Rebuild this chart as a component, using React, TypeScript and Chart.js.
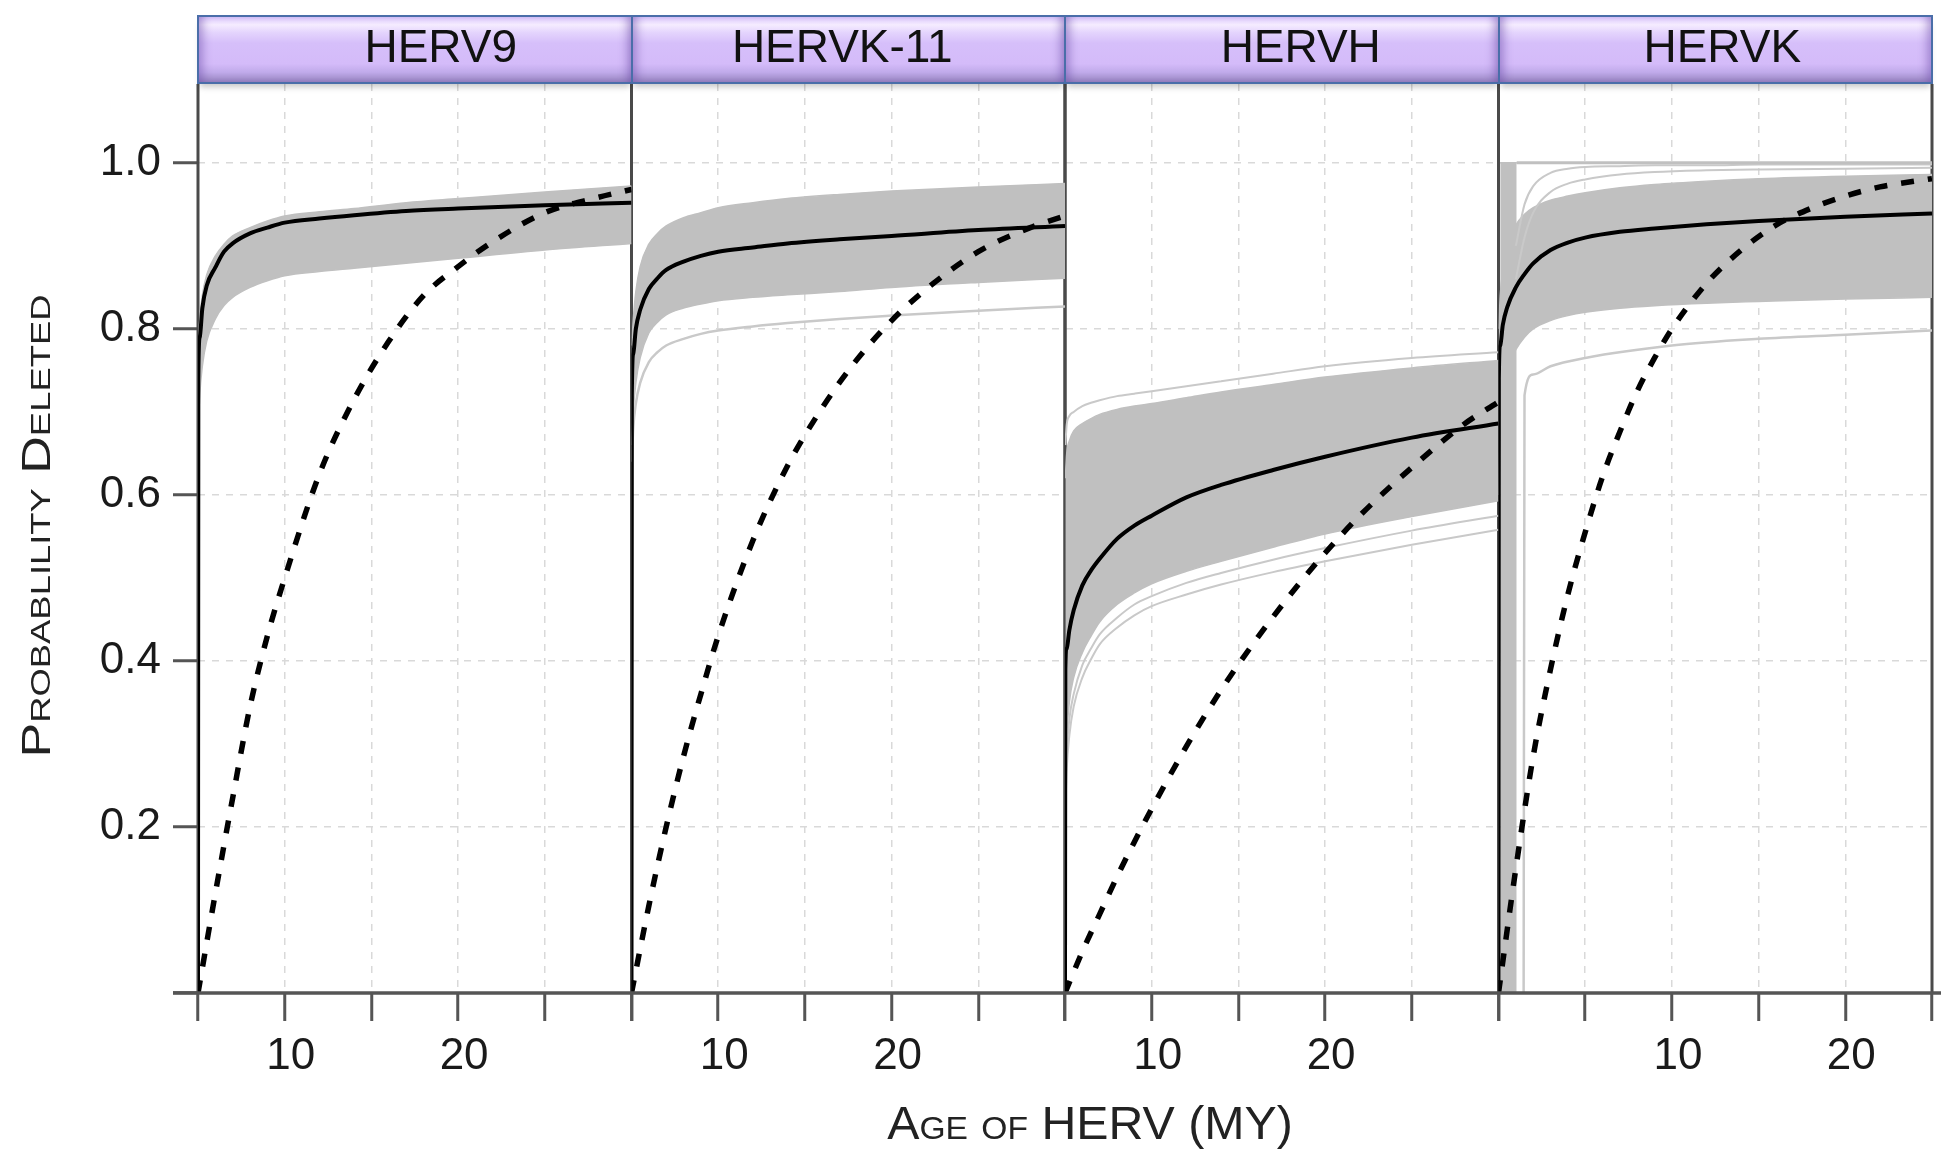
import React, { useEffect, useRef, useState } from 'react';
import { Chart, registerables } from 'chart.js';

Chart.register(...registerables);

const W = 1941;
const H = 1149;
const FONT = "'Liberation Sans', Arial, Helvetica, sans-serif";

// ---------- panels & axes ----------
const PANELS = ['HERV9', 'HERVK-11', 'HERVH', 'HERVK'];
const AGE_MIN = [5, 5, 5, 0];
const AGE_MAX = [30, 30, 30, 25];
const AGE_STEP = 5;
const AGE_LABELS = [10, 20];
const PROB_MAX = 1.095;
const PROB_STEP = 0.2;
const PROB_LABELS = [0.2, 0.4, 0.6, 0.8, 1.0];
const Y_TITLE = 'Probablility Deleted';
const X_TITLE = 'Age of HERV (MY)';

// ---------- age grids ----------
const AGES_5 = [5, 5.02, 5.1, 5.25, 5.5, 6, 6.5, 7, 8, 9, 10, 12, 14, 17, 20, 25, 30];
const AGES_0 = [0, 0.02, 0.1, 0.25, 0.5, 1, 1.5, 2, 3, 4, 5, 7, 9, 12, 15, 20, 25];
const EXP_AGES_5 = [5, 6, 7, 8, 9, 10, 12, 14, 16, 18, 20, 22, 25, 28, 30];
const EXP_AGES_0 = [0, 1, 2, 3, 4, 5, 6, 7, 8, 9, 10, 12, 14, 16, 18, 20, 22, 25];

// ---------- HERV9 ----------
const HERV9_FIT = [0, 0.74, 0.79, 0.825, 0.852, 0.874, 0.893, 0.903, 0.915, 0.922, 0.928, 0.933, 0.937, 0.942, 0.945, 0.949, 0.952];
const HERV9_HI = [null, 0.78, 0.81, 0.84, 0.865, 0.888, 0.902, 0.912, 0.922, 0.93, 0.936, 0.941, 0.945, 0.952, 0.957, 0.965, 0.972];
const HERV9_LO = [null, 0.68, 0.72, 0.755, 0.785, 0.812, 0.828, 0.838, 0.85, 0.858, 0.864, 0.869, 0.873, 0.879, 0.885, 0.895, 0.903];
const HERV9_EXP = [0, 0.12, 0.235, 0.345, 0.43, 0.5, 0.625, 0.715, 0.785, 0.84, 0.875, 0.905, 0.94, 0.958, 0.968];

// ---------- HERVK-11 ----------
const HERVK11_FIT = [0, 0.72, 0.77, 0.8, 0.823, 0.848, 0.861, 0.871, 0.881, 0.888, 0.893, 0.898, 0.903, 0.908, 0.912, 0.919, 0.924];
const HERVK11_HI = [null, 0.78, 0.81, 0.845, 0.875, 0.902, 0.915, 0.924, 0.934, 0.94, 0.946, 0.952, 0.957, 0.962, 0.966, 0.971, 0.975];
const HERVK11_LO = [null, 0.66, 0.7, 0.735, 0.765, 0.795, 0.808, 0.817, 0.825, 0.83, 0.834, 0.838, 0.841, 0.845, 0.85, 0.856, 0.861];
const HERVK11_OUT = [null, 0.64, 0.68, 0.71, 0.735, 0.76, 0.772, 0.78, 0.788, 0.794, 0.798, 0.803, 0.807, 0.812, 0.816, 0.822, 0.827];
const HERVK11_EXP = [0, 0.105, 0.2, 0.285, 0.36, 0.43, 0.545, 0.635, 0.705, 0.763, 0.81, 0.848, 0.893, 0.922, 0.936];

// ---------- HERVH ----------
const HERVH_FIT = [0, 0.39, 0.415, 0.437, 0.461, 0.491, 0.509, 0.523, 0.547, 0.563, 0.575, 0.597, 0.612, 0.63, 0.646, 0.669, 0.686];
const HERVH_HI = [null, 0.62, 0.65, 0.665, 0.677, 0.686, 0.692, 0.697, 0.703, 0.707, 0.71, 0.717, 0.724, 0.733, 0.742, 0.753, 0.762];
const HERVH_LO = [null, 0.26, 0.31, 0.35, 0.38, 0.41, 0.43, 0.447, 0.468, 0.482, 0.493, 0.508, 0.52, 0.537, 0.553, 0.574, 0.593];
const HERVH_TOP = [null, 0.66, 0.685, 0.695, 0.7, 0.707, 0.711, 0.714, 0.719, 0.722, 0.725, 0.731, 0.737, 0.746, 0.755, 0.765, 0.772];
const HERVH_LOW1 = [null, 0.22, 0.27, 0.31, 0.345, 0.38, 0.402, 0.42, 0.44, 0.455, 0.466, 0.48, 0.492, 0.507, 0.52, 0.54, 0.558];
const HERVH_LOW2 = [null, 0.24, 0.29, 0.33, 0.36, 0.395, 0.415, 0.432, 0.452, 0.468, 0.478, 0.494, 0.506, 0.522, 0.536, 0.557, 0.575];
const HERVH_EXP = [0, 0.05, 0.095, 0.14, 0.182, 0.222, 0.297, 0.365, 0.425, 0.48, 0.53, 0.575, 0.633, 0.685, 0.712];

// ---------- HERVK ----------
const HERVK_FIT = [0, 0.74, 0.78, 0.805, 0.826, 0.85, 0.866, 0.879, 0.895, 0.904, 0.91, 0.917, 0.921, 0.926, 0.93, 0.935, 0.939];
const HERVK_HI = [null, 0.8, 0.84, 0.87, 0.895, 0.925, 0.938, 0.946, 0.955, 0.96, 0.964, 0.97, 0.974, 0.978, 0.981, 0.984, 0.986];
const HERVK_LO = [null, 0.6, 0.68, 0.72, 0.75, 0.775, 0.79, 0.8, 0.81, 0.816, 0.82, 0.825, 0.828, 0.831, 0.833, 0.836, 0.838];
const HERVK_FR1 = [null, null, null, null, null, 0.86, 0.91, 0.94, 0.965, 0.975, 0.98, 0.986, 0.989, 0.991, 0.992, 0.993, 0.994];
const HERVK_FR2 = [null, null, null, null, null, 0.9, 0.95, 0.972, 0.988, 0.993, 0.995, 0.996, 0.997, 0.997, 0.998, 0.998, 0.998];
const HERVK_STEEP_AGES = [0.1, 1.05];
const HERVK_STEEP_LO = [0, 0];
const HERVK_STEEP_HI = [1, 1];
const HERVK_TOP_AGES = [1.05, 25];
const HERVK_TOP = [1, 1];
const HERVK_OUT_AGES = [1.45, 1.5, 2, 3, 5, 10, 15, 20, 25];
const HERVK_OUT = [0, 0.72, 0.745, 0.755, 0.765, 0.78, 0.788, 0.793, 0.798];
const HERVK_EXP = [0, 0.15, 0.285, 0.39, 0.48, 0.555, 0.622, 0.676, 0.725, 0.765, 0.8, 0.855, 0.895, 0.925, 0.945, 0.96, 0.971, 0.981];

const BAND = '#c0c0c0';
const LIGHT = '#c9c9c9';
// horizontal nudge of each strip label (style only)
const STRIP_TEXT_SHIFT = [26, -6, 19, 7];

function buildDatasets() {
  const ds: any[] = [];
  const line = (axis: string, xs: number[], ys: (number | null)[], opts: any = {}) => {
    ds.push({
      xAxisID: axis,
      yAxisID: 'y',
      data: xs.map((x, i) => ({ x, y: ys[i] })),
      pointRadius: 0,
      borderWidth: 2,
      borderColor: LIGHT,
      backgroundColor: LIGHT,
      fill: false,
      cubicInterpolationMode: 'monotone',
      order: 8,
      ...opts,
    });
  };
  const band = (axis: string, xs: number[], lo: (number | null)[], hi: (number | null)[]) => {
    line(axis, xs, lo, { borderColor: BAND, borderWidth: 1.5, order: 10 });
    line(axis, xs, hi, { borderColor: BAND, borderWidth: 1.5, order: 10, fill: '-1', backgroundColor: BAND });
  };
  const fit = (axis: string, xs: number[], ys: number[]) =>
    line(axis, xs, ys, { borderColor: '#000', borderWidth: 4, order: 2 });
  const expd = (axis: string, xs: number[], ys: number[]) =>
    line(axis, xs, ys, { borderColor: '#000', borderWidth: 5.5, borderDash: [13, 14], order: 1 });

  // HERV9
  band('x0', AGES_5, HERV9_LO, HERV9_HI);
  fit('x0', AGES_5, HERV9_FIT);
  expd('x0', EXP_AGES_5, HERV9_EXP);
  // HERVK-11
  band('x1', AGES_5, HERVK11_LO, HERVK11_HI);
  line('x1', AGES_5, HERVK11_OUT, { borderWidth: 2.5 });
  fit('x1', AGES_5, HERVK11_FIT);
  expd('x1', EXP_AGES_5, HERVK11_EXP);
  // HERVH
  band('x2', AGES_5, HERVH_LO, HERVH_HI);
  line('x2', AGES_5, HERVH_TOP);
  line('x2', AGES_5, HERVH_LOW1);
  line('x2', AGES_5, HERVH_LOW2);
  fit('x2', AGES_5, HERVH_FIT);
  expd('x2', EXP_AGES_5, HERVH_EXP);
  // HERVK
  band('x3', HERVK_STEEP_AGES, HERVK_STEEP_LO, HERVK_STEEP_HI);
  line('x3', HERVK_TOP_AGES, HERVK_TOP, { borderWidth: 3, borderColor: BAND });
  band('x3', AGES_0, HERVK_LO, HERVK_HI);
  line('x3', AGES_0, HERVK_FR1);
  line('x3', AGES_0, HERVK_FR2);
  line('x3', HERVK_OUT_AGES, HERVK_OUT, { borderWidth: 2.5 });
  fit('x3', AGES_0, HERVK_FIT);
  expd('x3', EXP_AGES_0, HERVK_EXP);
  return ds;
}

const framePlugin = {
  id: 'panelFrame',
  beforeDatasetsDraw(chart: any) {
    const { ctx, chartArea } = chart;
    ctx.save();
    ctx.strokeStyle = '#4a4a4a';
    ctx.lineWidth = 3;
    const edges: number[] = [];
    PANELS.forEach((_, i) => {
      const s = chart.scales['x' + i];
      edges.push(s.left, s.right);
    });
    edges.forEach((x) => {
      ctx.beginPath();
      ctx.moveTo(x, chartArea.top);
      ctx.lineTo(x, chartArea.bottom);
      ctx.stroke();
    });
    ctx.restore();
  },
  afterDatasetsDraw(chart: any) {
    const { ctx, chartArea } = chart;
    ctx.save();
    ctx.strokeStyle = '#555';
    ctx.lineWidth = 3.5;
    ctx.beginPath();
    ctx.moveTo(chartArea.left - 25, chartArea.bottom);
    ctx.lineTo(chart.width, chartArea.bottom);
    ctx.stroke();
    ctx.restore();
  },
};

export default function App() {
  const canvasRef = useRef<HTMLCanvasElement>(null);
  const [strips, setStrips] = useState<{ left: number; width: number; top: number }[]>([]);

  useEffect(() => {
    const xScales: any = {};
    PANELS.forEach((_, i) => {
      xScales['x' + i] = {
        type: 'linear',
        position: 'bottom',
        stack: 'panels',
        stackWeight: 1,
        min: AGE_MIN[i],
        max: AGE_MAX[i],
        afterFit: (s: any) => {
          s.height = 156;
        },
        ticks: {
          stepSize: AGE_STEP,
          autoSkip: false,
          maxRotation: 0,
          padding: 9,
          labelOffset: 6,
          color: '#1a1a1a',
          font: { family: FONT, size: 44 },
          callback: (v: any) => (AGE_LABELS.includes(v) ? String(v) : ''),
        },
        grid: {
          color: (c: any) =>
            c.tick && (c.tick.value === AGE_MIN[i] || c.tick.value === AGE_MAX[i]) ? 'rgba(0,0,0,0)' : '#d9d9d9',
          lineWidth: 1.5,
          tickColor: '#555',
          tickWidth: 3,
          tickLength: 28,
        },
        border: { display: false, dash: [7, 7] },
      };
    });

    const chart = new Chart(canvasRef.current as HTMLCanvasElement, {
      type: 'line',
      data: { datasets: buildDatasets() },
      options: {
        animation: false,
        responsive: false,
        maintainAspectRatio: false,
        devicePixelRatio: 1,
        events: [],
        layout: { padding: { left: 0, right: 4, top: 84, bottom: 0 } },
        plugins: { legend: { display: false }, tooltip: { enabled: false }, title: { display: false } },
        scales: {
          ...xScales,
          y: {
            type: 'linear',
            position: 'left',
            min: 0,
            max: PROB_MAX,
            afterFit: (s: any) => {
              s.width = 198;
            },
            ticks: {
              stepSize: PROB_STEP,
              includeBounds: false,
              padding: 12,
              color: '#1a1a1a',
              font: { family: FONT, size: 44 },
              callback: (v: any) => {
                const hit = PROB_LABELS.find((p) => Math.abs(p - v) < 1e-6);
                return hit !== undefined ? hit.toFixed(1) : '';
              },
            },
            grid: {
              color: (c: any) => (c.tick && c.tick.value === 0 ? 'rgba(0,0,0,0)' : '#d9d9d9'),
              lineWidth: 1.5,
              tickColor: '#555',
              tickWidth: 3,
              tickLength: 25,
            },
            border: { display: false, dash: [7, 7] },
          },
        },
      } as any,
      plugins: [framePlugin],
    });

    setStrips(
      PANELS.map((_, i) => {
        const s: any = chart.scales['x' + i];
        return { left: s.left, width: s.right - s.left, top: chart.chartArea.top };
      })
    );
    return () => chart.destroy();
  }, []);

  return (
    <div style={{ position: 'fixed', left: 0, top: 0, width: W, height: H, background: '#fff', overflow: 'hidden' }}>
      <canvas ref={canvasRef} width={W} height={H} style={{ position: 'absolute', left: 0, top: 0, width: W, height: H }} />
      {strips.map((s, i) => (
        <div
          key={PANELS[i]}
          style={{
            position: 'absolute',
            left: s.left - 1,
            top: 15,
            width: s.width + 2,
            height: s.top - 15,
            boxSizing: 'border-box',
            border: '2px solid #4a6ea9',
            background:
              'linear-gradient(to bottom, #dac6fb 0%, #f5ecff 12%, #e4d4fd 24%, #d6bffa 40%, #d4bbf9 72%, #c0aaea 85%, #9683bf 100%)',
            boxShadow:
              'inset 10px 0 8px -6px rgba(110,80,170,0.5), inset -10px 0 8px -6px rgba(110,80,170,0.5), 0 6px 6px -3px rgba(0,0,0,0.22)',
            display: 'flex',
            alignItems: 'center',
            justifyContent: 'center',
            paddingBottom: 8,
            fontFamily: FONT,
            fontSize: 46,
            color: '#111',
            whiteSpace: 'nowrap',
          }}
        >
          <span style={{ position: 'relative', left: STRIP_TEXT_SHIFT[i] }}>{PANELS[i]}</span>
        </div>
      ))}
      <div
        style={{
          position: 'absolute',
          left: 36 - 350,
          top: 526 - 30,
          width: 700,
          height: 60,
          display: 'flex',
          alignItems: 'center',
          justifyContent: 'center',
          transform: 'rotate(-90deg) scaleX(1.3)',
          fontFamily: FONT,
          fontSize: 40,
          fontVariant: 'small-caps',
          color: '#222',
          whiteSpace: 'nowrap',
        }}
      >
        {Y_TITLE}
      </div>
      <div
        style={{
          position: 'absolute',
          left: 1090 - 400,
          top: 1123 - 30,
          width: 800,
          height: 60,
          display: 'flex',
          alignItems: 'center',
          justifyContent: 'center',
          transform: 'scaleX(1.05)',
          fontFamily: FONT,
          fontSize: 46,
          fontVariant: 'small-caps',
          color: '#222',
          whiteSpace: 'nowrap',
        }}
      >
        {X_TITLE}
      </div>
    </div>
  );
}
